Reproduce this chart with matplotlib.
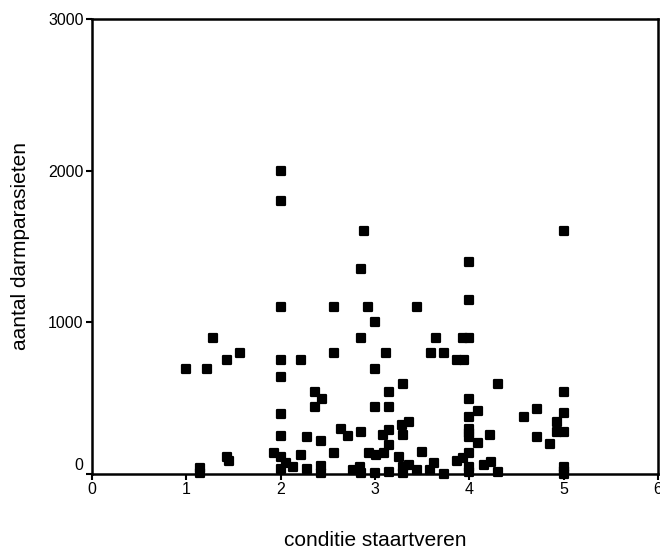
import matplotlib
matplotlib.use("Agg")
import matplotlib.pyplot as plt
from matplotlib.markers import MarkerStyle
from matplotlib.transforms import ScaledTranslation

plt.rcParams['font.family'] = ['Liberation Sans', 'DejaVu Sans']

# conditie staartveren (x) and aantal darmparasieten (y)
conditie = [
    1.0, 1.14, 1.14, 1.22, 1.28, 1.43, 1.45, 1.43, 1.57,
    2.0, 2.0, 2.0, 2.0, 2.0, 2.0, 2.0, 2.0, 2.0,
    1.93, 2.06, 2.13, 2.22, 2.22, 2.28, 2.28,
    2.36, 2.44, 2.36, 2.43, 2.43, 2.43,
    2.57, 2.57, 2.57, 2.64, 2.71, 2.77, 2.84, 2.85, 2.85,
    2.85, 2.88, 2.85, 2.93, 3.0, 3.0, 3.0, 3.15,
    2.94, 3.01, 3.10, 3.0,
    3.08, 3.15, 3.29, 3.30, 3.15, 3.15, 3.12, 3.15,
    3.25, 3.30, 3.30, 3.36, 3.36, 3.30, 3.44, 3.44,
    3.50, 3.58, 3.63, 3.59, 3.73, 3.65, 3.73,
    3.87, 3.94, 3.93, 4.0, 3.87, 3.93,
    4.0, 4.0, 4.0, 4.0, 4.0, 4.0, 4.0, 4.0, 4.0, 4.0,
    4.09, 4.09, 4.22, 4.16, 4.23, 4.30, 4.30,
    4.58, 4.72, 4.72, 4.86, 4.93, 4.93,
    5.0, 5.0, 5.0, 5.0, 5.0, 5.0, 5.0,
]
parasieten = [
    690, 40, 5, 690, 900, 115, 85, 750, 800,
    2000, 1800, 1100, 750, 640, 395, 250, 114, 31,
    137, 75, 45, 750, 125, 246, 31,
    543, 493, 440, 220, 53, 5,
    1100, 800, 137, 295, 250, 26, 48, 9, 279,
    1350, 1600, 900, 1100, 1000, 690, 442, 442,
    137, 125, 137, 5,
    257, 290, 323, 257, 191, 543, 800, 15,
    114, 48, 5, 59, 345, 592, 1100, 26,
    147, 26, 70, 800, 800, 900, 0,
    750, 750, 900, 900, 88, 104,
    1400, 1150, 493, 378, 300, 270, 246, 141, 48, 15,
    418, 203, 257, 59, 81, 594, 15,
    374, 427, 246, 198, 345, 280,
    1600, 543, 400, 280, 48, 20, 0,
]
x_ticks = [0, 1, 2, 3, 4, 5, 6]
y_ticks = [0, 1000, 2000, 3000]

W, H = 660, 552
fig = plt.figure(figsize=(W / 100, H / 100), dpi=100)
ax = fig.add_axes([92 / W, 1 - 474 / H, (658 - 92) / W, (474 - 19) / H])

ax.plot(conditie, parasieten, linestyle='none',
        marker=MarkerStyle('s', joinstyle='round'), markersize=5.3,
        markerfacecolor='black', markeredgecolor='black', markeredgewidth=1.6,
        clip_on=False, zorder=3)

ax.set_xlim(0, 6)
ax.set_ylim(0, 3000)
ax.set_xticks(x_ticks)
ax.set_yticks(y_ticks)
ax.set_xticklabels([str(v) for v in x_ticks])
ax.set_yticklabels([str(v) for v in y_ticks])

for s in ax.spines.values():
    s.set_linewidth(1.8)
    s.set_color('black')
ax.tick_params(direction='out', length=4, width=1.5, labelsize=11.5, pad=2,
               colors='black')

ax.set_xlabel('conditie staartveren', fontsize=15)
ax.xaxis.set_label_coords(0.5, -(541 - 474) / (474 - 19))
ax.xaxis.label.set_va('center')
ax.set_ylabel('aantal darmparasieten', fontsize=15)
ax.yaxis.set_label_coords(-(92 - 21) / (658 - 92), 0.5)
ax.yaxis.label.set_va('center')

# raise the "0" label on the y axis slightly, as in the reference
lbl0 = ax.get_yticklabels()[0]
lbl0.set_transform(lbl0.get_transform() + ScaledTranslation(0, 7 / 72, fig.dpi_scale_trans))

fig.savefig('out.png', dpi=100)
